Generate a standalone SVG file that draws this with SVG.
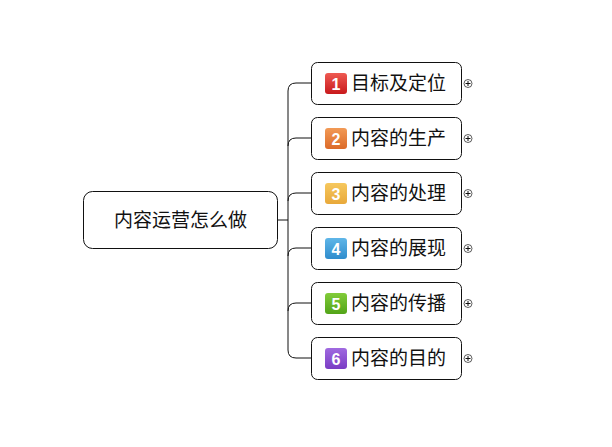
<svg xmlns="http://www.w3.org/2000/svg" width="612" height="447" viewBox="0 0 612 447">
<defs>
<linearGradient id="g1" x1="0" y1="0" x2="0" y2="1"><stop offset="0" stop-color="#ee5a52"/><stop offset="1" stop-color="#c8191c"/></linearGradient>
<linearGradient id="g2" x1="0" y1="0" x2="0" y2="1"><stop offset="0" stop-color="#f29a56"/><stop offset="1" stop-color="#dc6a28"/></linearGradient>
<linearGradient id="g3" x1="0" y1="0" x2="0" y2="1"><stop offset="0" stop-color="#f6c85e"/><stop offset="1" stop-color="#e8a83a"/></linearGradient>
<linearGradient id="g4" x1="0" y1="0" x2="0" y2="1"><stop offset="0" stop-color="#5fb6e8"/><stop offset="1" stop-color="#2f8ccc"/></linearGradient>
<linearGradient id="g5" x1="0" y1="0" x2="0" y2="1"><stop offset="0" stop-color="#82cc3a"/><stop offset="1" stop-color="#52a418"/></linearGradient>
<linearGradient id="g6" x1="0" y1="0" x2="0" y2="1"><stop offset="0" stop-color="#a06ae0"/><stop offset="1" stop-color="#7a3cc4"/></linearGradient>
</defs>
<style>
.box{fill:#fff;stroke:#111;stroke-width:1}
.t{font-family:"Liberation Sans","Noto Sans CJK SC",sans-serif;font-size:19px;fill:#111}
.ct{font-family:"Liberation Sans","Noto Sans CJK SC",sans-serif;font-size:19px;fill:#111;text-anchor:middle}
.n{font-family:"Liberation Sans",sans-serif;font-size:16px;font-weight:bold;fill:#fff;text-anchor:middle}
.c{fill:none;stroke:#111;stroke-width:1}
.p{fill:#fff;stroke:#333;stroke-width:0.8}
</style>
<rect width="612" height="447" fill="#fff"/>
<g id="connectors">
<path class="c" d="M277,220 H288"/>
<path class="c" d="M311,83 H296 Q288,83 288,91 V350 Q288,358 296,358 H311"/>
<path class="c" d="M288,146 Q288,138 296,138 H311"/>
<path class="c" d="M288,201 Q288,193 296,193 H311"/>
<path class="c" d="M288,256 Q288,248 296,248 H311"/>
<path class="c" d="M288,311 Q288,303 296,303 H311"/>
</g>
<g id="root">
<rect class="box" x="83.5" y="191.5" width="194" height="57" rx="9"/>
<text class="ct" x="180.5" y="226.5">内容运营怎么做</text>
</g>
<g id="n1">
<rect class="box" x="311.5" y="62.5" width="150" height="42" rx="6"/>
<rect x="325" y="73" width="22" height="21" rx="3" fill="url(#g1)"/>
<text class="n" x="336" y="89.5">1</text>
<text class="t" x="351" y="90">目标及定位</text>
<circle class="p" cx="468" cy="83.5" r="4"/><path class="c" d="M465.5,83.5h5M468,81v5" stroke-width="0.8"/>
</g>
<g id="n2">
<rect class="box" x="311.5" y="117.5" width="150" height="42" rx="6"/>
<rect x="325" y="128" width="22" height="21" rx="3" fill="url(#g2)"/>
<text class="n" x="336" y="144.5">2</text>
<text class="t" x="351" y="145">内容的生产</text>
<circle class="p" cx="468" cy="138.5" r="4"/><path class="c" d="M465.5,138.5h5M468,136v5" stroke-width="0.8"/>
</g>
<g id="n3">
<rect class="box" x="311.5" y="172.5" width="150" height="42" rx="6"/>
<rect x="325" y="183" width="22" height="21" rx="3" fill="url(#g3)"/>
<text class="n" x="336" y="199.5">3</text>
<text class="t" x="351" y="200">内容的处理</text>
<circle class="p" cx="468" cy="193.5" r="4"/><path class="c" d="M465.5,193.5h5M468,191v5" stroke-width="0.8"/>
</g>
<g id="n4">
<rect class="box" x="311.5" y="227.5" width="150" height="42" rx="6"/>
<rect x="325" y="238" width="22" height="21" rx="3" fill="url(#g4)"/>
<text class="n" x="336" y="254.5">4</text>
<text class="t" x="351" y="255">内容的展现</text>
<circle class="p" cx="468" cy="248.5" r="4"/><path class="c" d="M465.5,248.5h5M468,246v5" stroke-width="0.8"/>
</g>
<g id="n5">
<rect class="box" x="311.5" y="282.5" width="150" height="42" rx="6"/>
<rect x="325" y="293" width="22" height="21" rx="3" fill="url(#g5)"/>
<text class="n" x="336" y="309.5">5</text>
<text class="t" x="351" y="310">内容的传播</text>
<circle class="p" cx="468" cy="303.5" r="4"/><path class="c" d="M465.5,303.5h5M468,301v5" stroke-width="0.8"/>
</g>
<g id="n6">
<rect class="box" x="311.5" y="337.5" width="150" height="42" rx="6"/>
<rect x="325" y="348" width="22" height="21" rx="3" fill="url(#g6)"/>
<text class="n" x="336" y="364.5">6</text>
<text class="t" x="351" y="365">内容的目的</text>
<circle class="p" cx="468" cy="358.5" r="4"/><path class="c" d="M465.5,358.5h5M468,356v5" stroke-width="0.8"/>
</g>
</svg>
